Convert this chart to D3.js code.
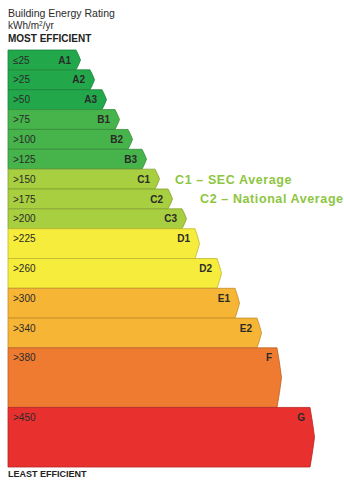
<!DOCTYPE html>
<html>
<head>
<meta charset="utf-8">
<script src="https://cdn.jsdelivr.net/npm/d3@7/dist/d3.min.js"></script>
<style>
  html, body { margin: 0; padding: 0; background: #fff; }
  svg { display: block; font-family: "Liberation Sans", Arial, sans-serif; }
</style>
</head>
<body>
<div id="chart"></div>
<script>
// Energy rating bands, most efficient first
const grades     = ["A1", "A2", "A3", "B1", "B2", "B3", "C1", "C2", "C3", "D1", "D2", "E1", "E2", "F", "G"];
const thresholds = ["≤25", ">25", ">50", ">75", ">100", ">125", ">150", ">175", ">200", ">225", ">260", ">300", ">340", ">380", ">450"];
// relative bar length of each band
const bandLength = [68, 82, 94, 107, 120, 134, 147, 160, 174, 187, 209, 227, 249, 269, 302];
// relative row thickness of each band
const bandSpan   = [1, 1, 1, 1, 1, 1, 1, 1, 1, 1.5, 1.5, 1.5, 1.5, 3, 3];
const bandGroup  = ["A", "A", "A", "B", "B", "B", "C", "C", "C", "D", "D", "E", "E", "F", "G"];
const groupKeys  = ["A", "B", "C", "D", "E", "F", "G"];
const groupFill  = ["#22a84a", "#46b34b", "#a8cf3f", "#f6ec3b", "#f6b535", "#ef7b31", "#e8312e"];
const notes      = ["C1 – SEC Average", "C2 – National Average"];
const noteGrades = ["C1", "C2"];

const W = 344, H = 480;
const svg = d3.select("#chart").append("svg").attr("width", W).attr("height", H);

const rows = grades.map((g, i) => ({
  grade: g, threshold: thresholds[i], len: bandLength[i], span: bandSpan[i], group: bandGroup[i]
}));

// cumulative row positions
let acc = 0;
rows.forEach(r => { r.start = acc; acc += r.span; r.end = acc; });

const y = d3.scaleLinear().domain([0, acc]).range([50, 467]);
const x = d3.scaleLinear().domain([0, 340]).range([8, 348]);
const fill = d3.scaleOrdinal().domain(groupKeys).range(groupFill);

// header
svg.append("text").attr("x", 8).attr("y", 17).attr("font-size", 10.5).attr("fill", "#2a2a2a")
  .text("Building Energy Rating");
const unit = svg.append("text").attr("x", 8).attr("y", 29).attr("font-size", 10).attr("fill", "#2a2a2a");
unit.append("tspan").text("kWh/m");
unit.append("tspan").attr("font-size", 6.5).attr("dy", -3.5).text("2");
unit.append("tspan").attr("dy", 3.5).text("/yr");
svg.append("text").attr("x", 8).attr("y", 41.5).attr("font-size", 10).attr("font-weight", "bold").attr("fill", "#222")
  .text("MOST EFFICIENT");

// arrow-shaped bars
function arrowPath(d) {
  const x0 = x(0), x1 = x(d.len), y0 = y(d.start), y1 = y(d.end);
  const tip = 4.5, ym = (y0 + y1) / 2;
  return `M${x0},${y0}L${x1},${y0}Q${x1 + tip * 0.6},${(y0 + ym) / 2} ${x1 + tip},${ym}` +
         `Q${x1 + tip * 0.6},${(ym + y1) / 2} ${x1},${y1}L${x0},${y1}Z`;
}

const band = svg.append("g").selectAll("g").data(rows).join("g");

band.append("path")
  .attr("d", arrowPath)
  .attr("fill", d => fill(d.group))
  .attr("stroke", d => d3.color(fill(d.group)).darker(0.7))
  .attr("stroke-width", 0.8);

band.append("text")
  .attr("x", x(0) + 5)
  .attr("y", d => y(d.start) + 10)
  .attr("dy", "0.35em")
  .attr("font-size", 10)
  .attr("fill", "#2a2a2a")
  .text(d => d.threshold);

band.append("text")
  .attr("x", d => x(d.len) - 5)
  .attr("y", d => y(d.start) + 10)
  .attr("dy", "0.35em")
  .attr("text-anchor", "end")
  .attr("font-size", 10)
  .attr("font-weight", "bold")
  .attr("fill", "#2a2a2a")
  .text(d => d.grade);

// annotations beside the C bands
const byGrade = new Map(rows.map(r => [r.grade, r]));
svg.append("g").selectAll("text").data(notes).join("text")
  .attr("x", (d, i) => x(byGrade.get(noteGrades[i]).len) + 20 + i * 12)
  .attr("y", (d, i) => y(byGrade.get(noteGrades[i]).start) + 10)
  .attr("dy", "0.35em")
  .attr("font-size", 12.5)
  .attr("font-weight", "bold")
  .attr("letter-spacing", 0.6)
  .attr("fill", "#8dc63f")
  .text(d => d);

svg.append("text").attr("x", 8).attr("y", 477).attr("font-size", 9).attr("font-weight", "bold").attr("fill", "#222")
  .text("LEAST EFFICIENT");
</script>
</body>
</html>
